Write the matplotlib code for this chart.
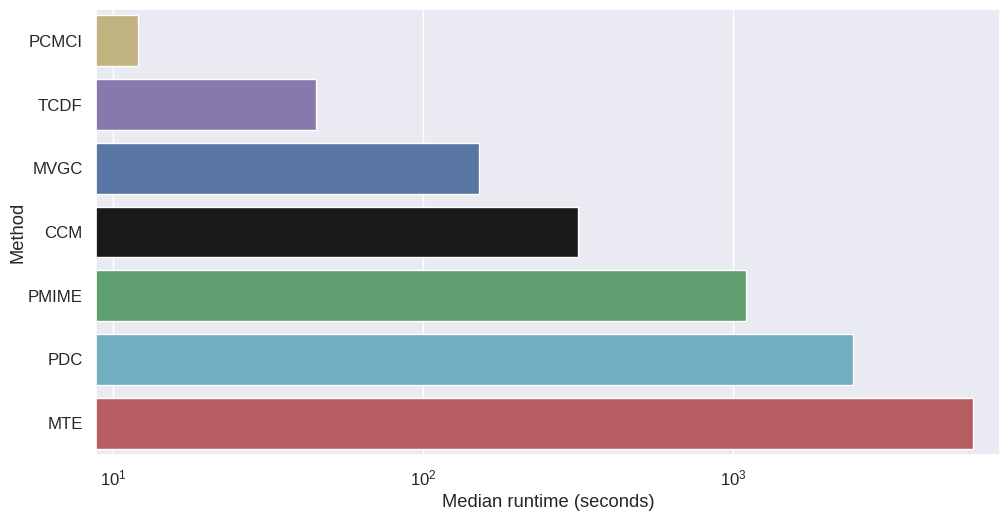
import matplotlib
matplotlib.use("Agg")
import matplotlib.pyplot as plt
import seaborn as sns

methods = ["PCMCI", "TCDF", "MVGC", "CCM", "PMIME", "PDC", "MTE"]
median_runtime = [12, 45, 151, 316, 1096, 2440, 5920]
base_colors = ["#ccb974", "#8172b3", "#4c72b0", "#1a1a1a", "#55a868", "#64b5cd", "#c44e52"]

sns.set_theme(style="darkgrid")
plt.rcParams["font.family"] = ["Liberation Sans", "DejaVu Sans"]
plt.rcParams["mathtext.fontset"] = "custom"
plt.rcParams["mathtext.rm"] = "Liberation Sans"
plt.rcParams["mathtext.it"] = "Liberation Sans"
plt.rcParams["mathtext.default"] = "regular"

colors = [sns.desaturate(c, 0.75) for c in base_colors]

W, H = 1001, 513
fig = plt.figure(figsize=(W / 100, H / 100), dpi=100)
ax = fig.add_axes([96 / W, 1 - 455 / H, (1000 - 96) / W, (455 - 9) / H])

ypos = list(range(len(methods)))
ax.barh(ypos, median_runtime, height=0.8, color=colors,
        edgecolor="white", linewidth=1.0)
ax.set_xscale("log")
ax.set_xlim(8.8, 7250)
ax.set_ylim(len(methods) - 0.5, -0.5)
ax.set_yticks(ypos)
ax.set_yticklabels(methods)
ax.tick_params(axis="both", labelsize=12.1)
ax.set_xlabel("Median runtime (seconds)", fontsize=13.2)
ax.set_ylabel("Method", fontsize=13.2, labelpad=1)
ax.grid(axis="y", visible=False)
ax.grid(axis="x", which="minor", visible=False)

fig.savefig("out.png", dpi=100)
